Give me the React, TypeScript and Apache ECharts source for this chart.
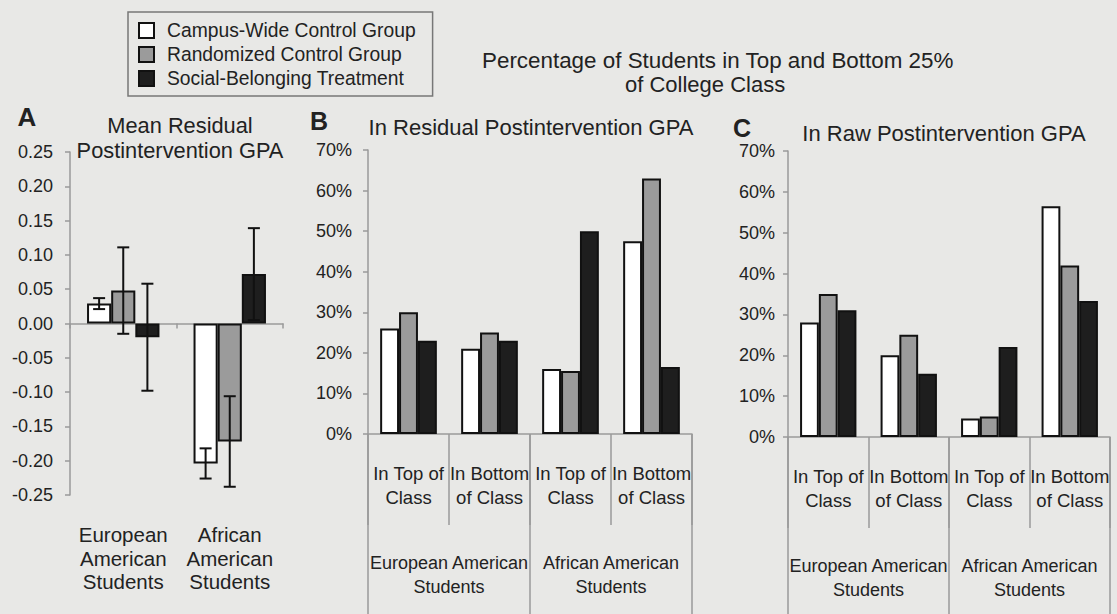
import React, { useEffect, useRef } from "react";
import * as echarts from "echarts";

const seriesNames = [
  "Campus-Wide Control Group",
  "Randomized Control Group",
  "Social-Belonging Treatment",
];
const seriesColors = ["#ffffff", "#9b9b9b", "#1e1e1e"];

// Panel A: mean residual postintervention GPA
const raceCategories = ["European\nAmerican\nStudents", "African\nAmerican\nStudents"];
const gpaCampus = [0.029, -0.204];
const gpaRandom = [0.048, -0.172];
const gpaTreat = [-0.02, 0.072];
const errCampus = [0.008, 0.022];
const errRandom = [0.063, 0.066];
const errTreat = [0.078, 0.067];

// Panels B and C
const classCategories = ["In Top of\nClass", "In Bottom\nof Class", "In Top of\nClass", "In Bottom\nof Class"];
const groupCategories = ["European American\nStudents", "African American\nStudents"];
const residCampus = [26, 21, 16, 47.5];
const residRandom = [30, 25, 15.5, 63];
const residTreat = [23, 23, 50, 16.5];
const rawCampus = [28, 20, 4.5, 56.5];
const rawRandom = [35, 25, 5, 42];
const rawTreat = [31, 15.5, 22, 33.3];

const pctTicks = { min: 0, max: 70, interval: 10 };
const gpaTicks = { min: -0.25, max: 0.25, interval: 0.05 };

const FONT = "'Liberation Sans', Arial, Helvetica, sans-serif";
const TEXT = "#222";
const AXIS = "#9a9a9a";

export default function App() {
  const ref = useRef<HTMLDivElement>(null);
  useEffect(() => {
    if (!ref.current) return;
    const chart = echarts.init(ref.current, undefined, { renderer: "svg" });

    const gapA = 0.32;
    const barStyle = (i: number) => ({
      color: seriesColors[i],
      borderColor: "#111",
      borderWidth: 2,
    });

    const gpaSeries = [gpaCampus, gpaRandom, gpaTreat];
    const errSeries = [errCampus, errRandom, errTreat];
    const errData: number[][] = [];
    gpaSeries.forEach((vals, s) => {
      vals.forEach((v, c) => errData.push([c, v, errSeries[s][c], s]));
    });

    const subAxis = (grid: number) => ({
      type: "category",
      gridIndex: grid,
      data: classCategories,
      position: "bottom",
      axisLine: { show: true, onZero: false, lineStyle: { color: AXIS, width: 1.5 } },
      axisTick: { show: true, interval: 0, length: 91, lineStyle: { color: AXIS, width: 1.5 } },
      axisLabel: {
        interval: 0,
        margin: 27,
        fontSize: 18.5,
        lineHeight: 24,
        color: TEXT,
        fontFamily: FONT,
      },
    });
    const groupAxis = (grid: number) => ({
      type: "category",
      gridIndex: grid,
      data: groupCategories,
      position: "bottom",
      axisLine: { show: false, onZero: false },
      axisTick: { show: true, interval: 0, length: 180, lineStyle: { color: AXIS, width: 1.5 } },
      axisLabel: {
        interval: 0,
        margin: 117,
        fontSize: 18,
        lineHeight: 24,
        color: TEXT,
        fontFamily: FONT,
      },
    });
    const pctAxis = (grid: number, margin: number) => ({
      type: "value",
      gridIndex: grid,
      ...pctTicks,
      splitLine: { show: false },
      axisLine: { show: true, lineStyle: { color: AXIS, width: 1.5 } },
      axisTick: { show: true, length: 5, lineStyle: { color: AXIS, width: 1.5 } },
      axisLabel: {
        formatter: "{value}%",
        margin,
        fontSize: 18,
        color: TEXT,
        fontFamily: FONT,
      },
    });

    const pctBars = (grid: number, xIdx: number, arrs: number[][]) =>
      arrs.map((arr, i) => ({
        type: "bar",
        name: seriesNames[i],
        xAxisIndex: xIdx,
        yAxisIndex: grid,
        data: arr,
        barGap: "0%",
        barCategoryGap: "30%",
        itemStyle: barStyle(i),
      }));

    const txt = (text: string, x: number, y: number, size: number, align: string, bold = false, lh = 0) => ({
      type: "text",
      x,
      y,
      style: {
        text,
        fill: TEXT,
        fontSize: size,
        fontFamily: FONT,
        fontWeight: bold ? "bold" : "normal",
        textAlign: align,
        align,
        textVerticalAlign: "middle",
        verticalAlign: "middle",
        lineHeight: lh || undefined,
      },
    });

    chart.setOption({
      animation: false,
      backgroundColor: "#e8e8e6",
      textStyle: { fontFamily: FONT },
      legend: {
        data: seriesNames,
        orient: "vertical",
        left: 128,
        top: 12,
        icon: "rect",
        itemWidth: 15,
        itemHeight: 15,
        itemGap: 5,
        padding: [9, 17, 8, 10],
        borderColor: "#777",
        borderWidth: 1.5,
        selectedMode: false,
        itemStyle: { borderColor: "#111", borderWidth: 2 },
        textStyle: { fontSize: 19.3, lineHeight: 18, color: TEXT, fontFamily: FONT, padding: [0, 0, 0, 8] },
      },
      graphic: [
        txt("A", 27, 117, 26, "center", true),
        txt("Mean Residual\nPostintervention GPA", 180, 138, 21.8, "center", false, 25),
        txt("B", 319, 121, 25, "center", true),
        txt("In Residual Postintervention GPA", 531, 127, 22, "center"),
        txt("C", 742, 128, 25, "center", true),
        txt("In Raw Postintervention GPA", 944, 133, 22, "center"),
        txt("Percentage of Students in Top and Bottom 25%", 482, 60, 22.4, "left"),
        txt("of College Class", 625, 84, 22, "left"),
      ],
      grid: [
        { left: 70, top: 152, width: 213, height: 343 },
        { left: 368, top: 150, width: 324, height: 284 },
        { left: 788, top: 151, width: 322, height: 286 },
      ],
      xAxis: [
        {
          type: "category",
          gridIndex: 0,
          data: raceCategories,
          axisLine: { show: true, onZero: true, lineStyle: { color: AXIS, width: 1.5 } },
          axisTick: { show: true, length: 5, interval: 0, lineStyle: { color: AXIS, width: 1.5 } },
          axisLabel: { show: false },
        },
        {
          type: "category",
          gridIndex: 0,
          data: raceCategories,
          position: "bottom",
          axisLine: { show: false, onZero: false },
          axisTick: { show: false },
          axisLabel: {
            interval: 0,
            margin: 28,
            fontSize: 20.5,
            lineHeight: 23.5,
            color: TEXT,
            fontFamily: FONT,
          },
        },
        subAxis(1),
        groupAxis(1),
        subAxis(2),
        groupAxis(2),
      ],
      yAxis: [
        {
          type: "value",
          gridIndex: 0,
          ...gpaTicks,
          splitLine: { show: false },
          axisLine: { show: true, lineStyle: { color: AXIS, width: 1.5 } },
          axisTick: { show: true, length: 5, lineStyle: { color: AXIS, width: 1.5 } },
          axisLabel: {
            margin: 17,
            fontSize: 18,
            color: TEXT,
            fontFamily: FONT,
            formatter: (v: number) => v.toFixed(2),
          },
        },
        pctAxis(1, 16),
        pctAxis(2, 13),
      ],
      series: [
        ...gpaSeries.map((arr, i) => ({
          type: "bar",
          name: seriesNames[i],
          xAxisIndex: 0,
          yAxisIndex: 0,
          data: arr,
          barGap: "0%",
          barCategoryGap: gapA * 100 + "%",
          itemStyle: barStyle(i),
        })),
        {
          type: "custom",
          name: "error",
          xAxisIndex: 0,
          yAxisIndex: 0,
          z: 10,
          encode: { x: 0, y: 1 },
          data: errData,
          renderItem: (_p: any, api: any) => {
            const c = api.value(0);
            const v = api.value(1);
            const e = api.value(2);
            const s = api.value(3);
            const band = api.size([1, 0])[0];
            const barW = (band * (1 - gapA)) / 3;
            const cx = api.coord([c, v])[0] + (s - 1) * barW;
            const yHi = api.coord([c, v + e])[1];
            const yLo = api.coord([c, v - e])[1];
            const cap = 6;
            const st = { stroke: "#111", lineWidth: 2 };
            return {
              type: "group",
              children: [
                { type: "line", shape: { x1: cx, y1: yHi, x2: cx, y2: yLo }, style: st },
                { type: "line", shape: { x1: cx - cap, y1: yHi, x2: cx + cap, y2: yHi }, style: st },
                { type: "line", shape: { x1: cx - cap, y1: yLo, x2: cx + cap, y2: yLo }, style: st },
              ],
            };
          },
        },
        ...pctBars(1, 2, [residCampus, residRandom, residTreat]),
        ...pctBars(2, 4, [rawCampus, rawRandom, rawTreat]),
      ],
    });
    return () => chart.dispose();
  }, []);
  return (
    <div
      ref={ref}
      style={{ position: "absolute", left: 0, top: 0, width: 1117, height: 614, background: "#e8e8e6" }}
    />
  );
}
